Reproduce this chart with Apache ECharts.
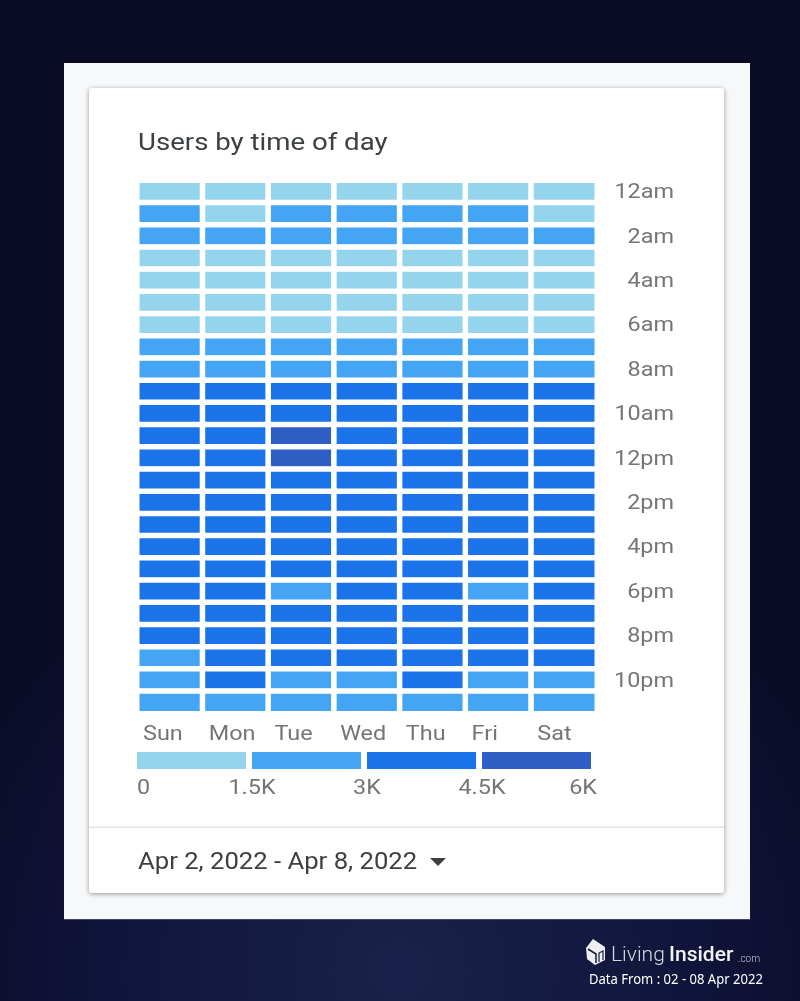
<!DOCTYPE html>
<html>
<head>
<meta charset="utf-8">
<style>
  html, body { margin: 0; padding: 0; background: #0a0b25; }
  #chart { width: 800px; height: 1001px; }
</style>
<script src="https://cdn.jsdelivr.net/npm/echarts@6/dist/echarts.min.js"></script>
</head>
<body>
<div id="chart"></div>
<script>
const days = ['Sun', 'Mon', 'Tue', 'Wed', 'Thu', 'Fri', 'Sat'];
const hours = ['12am', '1am', '2am', '3am', '4am', '5am', '6am', '7am', '8am', '9am', '10am', '11am',
    '12pm', '1pm', '2pm', '3pm', '4pm', '5pm', '6pm', '7pm', '8pm', '9pm', '10pm', '11pm'];

// users per hour, one row per hour, Sun..Sat (estimated from the colour bands)
const usersByHour = [
    [1300, 1250, 1350, 1300, 1300, 1350, 1200],
    [1600, 1450, 1650, 1600, 1600, 1650, 1400],
    [1700, 1750, 1800, 1700, 1750, 1700, 1650],
    [1100, 1050, 1100, 1100, 1050, 1100, 1000],
    [950, 900, 950, 900, 950, 950, 900],
    [1000, 1000, 1050, 1000, 1000, 1050, 950],
    [1350, 1400, 1400, 1350, 1400, 1400, 1300],
    [2100, 2200, 2300, 2200, 2250, 2200, 2050],
    [2800, 2900, 2950, 2900, 2900, 2850, 2750],
    [3600, 3700, 3800, 3700, 3750, 3650, 3500],
    [4000, 4200, 4400, 4300, 4250, 4100, 3900],
    [4100, 4300, 4600, 4350, 4300, 4150, 4000],
    [4100, 4300, 4550, 4300, 4250, 4100, 4000],
    [3900, 4100, 4300, 4150, 4100, 3950, 3800],
    [3800, 4000, 4200, 4050, 4000, 3850, 3700],
    [3700, 3900, 4100, 3950, 3900, 3750, 3600],
    [3600, 3800, 4000, 3850, 3800, 3650, 3500],
    [3500, 3600, 3700, 3600, 3600, 3400, 3400],
    [3200, 3300, 2900, 3300, 3250, 2800, 3100],
    [3300, 3500, 3500, 3500, 3450, 3100, 3200],
    [3200, 3400, 3400, 3400, 3350, 3050, 3100],
    [2900, 3200, 3200, 3150, 3100, 3000, 3000],
    [2500, 3050, 2800, 2750, 3000, 2600, 2500],
    [2000, 2200, 2100, 2100, 2300, 2000, 1900]
];

const legendStops = [0, 1500, 3000, 4500, 6000];
const legendLabels = ['0', '1.5K', '3K', '4.5K', '6K'];
const legendColors = ['#94d5ed', '#45a5f5', '#1a73e8', '#2f5ec4'];

const cells = [];
usersByHour.forEach((row, h) => row.forEach((v, d) => cells.push([d, h, v])));
const legendBands = legendColors.map((c, i) => [legendStops[i], legendStops[i + 1], 0]);

const myChart = echarts.init(document.getElementById('chart'));

// the reference's text is stretched sideways, echarts axis labels can't do that
// so the tick labels are custom series placed through the axes, scaled in x
const STRETCH = 1.17;
function tickText(text, x, y, align) {
    return {
        type: 'text', x: x, y: y, scaleX: STRETCH,
        style: { text: text, font: '20px Roboto', fill: '#757575', textAlign: align, textVerticalAlign: 'middle' }
    };
}

function stretchedText(text, x, y, font, fill, stretch) {
    return {
        type: 'text', z: 5, x: x, y: y, scaleX: stretch,
        style: { text: text, font: font, fill: fill, textAlign: 'left', textVerticalAlign: 'middle' }
    };
}

const option = {
    animation: false,
    backgroundColor: new echarts.graphic.RadialGradient(0.5, 0.97, 0.62, [
        { offset: 0, color: '#19224a' },
        { offset: 0.6, color: '#10143a' },
        { offset: 1, color: '#0a0b25' }
    ]),
    grid: [
        { left: 137, top: 180.5, width: 460, height: 533 },
        { left: 137, top: 752, width: 460, height: 17 }
    ],
    xAxis: [
        {
            type: 'category', gridIndex: 0, data: days,
            axisLine: { show: false }, axisTick: { show: false }, axisLabel: { show: false }
        },
        {
            type: 'value', gridIndex: 1, min: 0, max: 6000, interval: 1500,
            splitLine: { show: false }, axisLine: { show: false }, axisTick: { show: false }, axisLabel: { show: false }
        }
    ],
    yAxis: [
        {
            type: 'category', gridIndex: 0, data: hours, inverse: true, position: 'right',
            axisLine: { show: false }, axisTick: { show: false }, axisLabel: { show: false }
        },
        { type: 'category', gridIndex: 1, data: ['users'], show: false }
    ],
    visualMap: {
        show: false,
        type: 'piecewise',
        seriesIndex: 0,
        dimension: 2,
        pieces: legendColors.map((c, i) => ({ gte: legendStops[i], lt: legendStops[i + 1], color: c }))
    },
    series: [
        {
            type: 'heatmap',
            xAxisIndex: 0,
            yAxisIndex: 0,
            data: cells,
            itemStyle: { borderColor: '#fff', borderWidth: 5.5 },
            emphasis: { disabled: true }
        },
        {
            // colour scale under the grid
            type: 'custom',
            xAxisIndex: 1,
            yAxisIndex: 1,
            data: legendBands,
            encode: { x: [0, 1], y: 2 },
            renderItem: function (params, api) {
                const start = api.coord([api.value(0), 0]);
                const end = api.coord([api.value(1), 0]);
                const h = api.size([0, 1])[1];
                return {
                    type: 'rect',
                    shape: { x: start[0], y: start[1] - h / 2, width: end[0] - start[0] - 6, height: h },
                    style: { fill: legendColors[params.dataIndex] }
                };
            }
        },
        {
            // weekday labels, left edge just inside each column
            type: 'custom',
            xAxisIndex: 0,
            yAxisIndex: 0,
            data: days.map((d, i) => [i, 23]),
            encode: { x: 0, y: 1 },
            silent: true,
            renderItem: function (params, api) {
                const p = api.coord([api.value(0), api.value(1)]);
                const size = api.size([1, 1]);
                return tickText(days[params.dataIndex], p[0] - size[0] / 2 + 6, p[1] + 33, 'left');
            }
        },
        {
            // hour labels, every second row
            type: 'custom',
            xAxisIndex: 0,
            yAxisIndex: 0,
            data: hours.map((h, i) => [6, i]).filter(r => r[1] % 2 === 0),
            encode: { x: 0, y: 1 },
            silent: true,
            renderItem: function (params, api) {
                const p = api.coord([api.value(0), api.value(1)]);
                const size = api.size([1, 1]);
                return tickText(hours[api.value(1)], p[0] + size[0] / 2 + 77, p[1] + 1.5, 'right');
            }
        },
        {
            // colour scale labels
            type: 'custom',
            xAxisIndex: 1,
            yAxisIndex: 1,
            data: legendStops.map(v => [v, 0]),
            encode: { x: 0, y: 1 },
            silent: true,
            renderItem: function (params, api) {
                const i = params.dataIndex;
                const p = api.coord([api.value(0), 0]);
                const align = i === 0 ? 'left' : (i === legendStops.length - 1 ? 'right' : 'center');
                return tickText(legendLabels[i], p[0], p[1] + 28.5, align);
            }
        }
    ],
    graphic: [
        { type: 'rect', z: -10, shape: { x: 64, y: 63, width: 686, height: 856 }, style: { fill: '#f7f8fa' } },
        { type: 'rect', z: -10, shape: { x: 64, y: 919, width: 686, height: 0.8 }, style: { fill: '#55586a' } },
        {
            type: 'rect', z: -9, shape: { x: 89, y: 88, width: 635, height: 805, r: 3 },
            style: { fill: '#fff', shadowBlur: 5, shadowOffsetY: 1, shadowColor: 'rgba(0,0,0,0.4)' }
        },
        { type: 'rect', z: -8, shape: { x: 89, y: 826.5, width: 635, height: 1.5 }, style: { fill: '#e3e4e6' } },
        stretchedText('Users by time of day', 138, 144, '23px Roboto', '#3c4043', 1.2),
        stretchedText('Apr 2, 2022 - Apr 8, 2022', 138, 863, '23px Roboto', '#3c4043', 1.115),
        { type: 'polygon', z: 5, shape: { points: [[430, 858], [446, 858], [438, 866]] }, style: { fill: '#3c4043' } },
        // LivingInsider mark
        {
            type: 'polygon', z: 5,
            shape: { points: [[593, 939], [605, 947], [605, 960], [595, 965], [587, 959], [586, 948]] },
            style: { fill: '#eceef2' }
        },
        {
            type: 'polyline', z: 6,
            shape: { points: [[588, 949], [596, 954], [596, 963]] },
            style: { stroke: '#141a3c', lineWidth: 1.5, fill: 'none' }
        },
        {
            type: 'polyline', z: 6,
            shape: { points: [[599, 962], [599, 953], [603, 951], [603, 960]] },
            style: { stroke: '#141a3c', lineWidth: 1.2, fill: 'none' }
        },
        {
            type: 'text', z: 5, x: 611, y: 956,
            style: { text: 'Living', font: '300 21px Roboto', fill: '#d5d8e0', textAlign: 'left', textVerticalAlign: 'middle' }
        },
        {
            type: 'text', z: 5, x: 669, y: 956,
            style: { text: 'Insider', font: '500 21px Roboto', fill: '#f2f3f6', textAlign: 'left', textVerticalAlign: 'middle' }
        },
        {
            type: 'text', z: 5, x: 738, y: 959,
            style: { text: '.com', font: '300 10px Roboto', fill: '#c8ccd6', textAlign: 'left', textVerticalAlign: 'middle' }
        },
        stretchedText('Data From : 02 - 08 Apr 2022', 589, 980, '400 13.5px "Noto Sans"', '#fff', 0.967)
    ]
};

myChart.setOption(option);

window.addEventListener('resize', function () {
    myChart.resize();
});
</script>
</body>
</html>
